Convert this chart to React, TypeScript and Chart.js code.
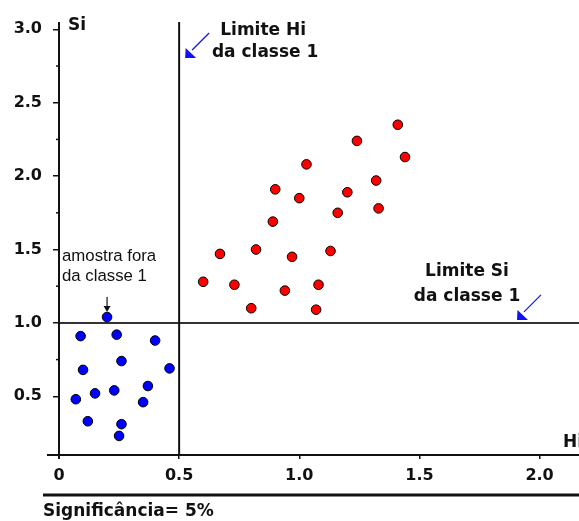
import { useEffect, useRef } from "react";
import { Chart, registerables } from "chart.js";

Chart.register(...registerables);

// Class 1 samples (red) and the samples outside class 1 (blue): Hi on x, Si on y
const redHi = [1.41, 1.24, 1.44, 1.03, 1.32, 0.9, 1.2, 1.0, 1.33, 1.16, 0.89, 0.82, 0.67, 1.13, 0.97, 0.6, 0.73, 1.08, 0.94, 0.8, 1.07];
const redSi = [2.35, 2.24, 2.13, 2.08, 1.97, 1.91, 1.89, 1.85, 1.78, 1.75, 1.69, 1.5, 1.47, 1.49, 1.45, 1.28, 1.26, 1.26, 1.22, 1.1, 1.09];
const blueHi = [0.2, 0.09, 0.24, 0.4, 0.26, 0.1, 0.46, 0.37, 0.15, 0.23, 0.07, 0.35, 0.12, 0.26, 0.25];
const blueSi = [1.04, 0.91, 0.92, 0.88, 0.74, 0.68, 0.69, 0.57, 0.52, 0.54, 0.48, 0.46, 0.33, 0.31, 0.23];

// Axis ticks
const hiTicks = [0, 0.5, 1.0, 1.5, 2.0];
const hiTickLabels = ["0", "0.5", "1.0", "1.5", "2.0"];
const siTicks = [0.5, 1.0, 1.5, 2.0, 2.5, 3.0];
const siTickLabels = ["0.5", "1.0", "1.5", "2.0", "2.5", "3.0"];
const siMinorTicks = [0.75, 1.25, 1.75, 2.25, 2.75];

// Class 1 limits
const hiLimit = 0.5;
const siLimit = 1.0;

const BOLD = "bold 17px 'DejaVu Sans'";
const INK = "#111111";
const ARROW = "#1010ff";

function segment(ctx: CanvasRenderingContext2D, x1: number, y1: number, x2: number, y2: number) {
  ctx.beginPath();
  ctx.moveTo(x1, y1);
  ctx.lineTo(x2, y2);
  ctx.stroke();
}

// Thin blue arrow with a filled head whose tip touches (tx, ty), coming from up-right
function blueArrow(ctx: CanvasRenderingContext2D, tx: number, ty: number) {
  ctx.strokeStyle = ARROW;
  ctx.fillStyle = ARROW;
  ctx.lineWidth = 1.2;
  segment(ctx, tx + 24, ty - 25, tx + 7, ty - 8);
  ctx.beginPath();
  ctx.moveTo(tx, ty);
  ctx.lineTo(tx + 0.5, ty - 10);
  ctx.lineTo(tx + 11, ty);
  ctx.closePath();
  ctx.fill();
}

const decorations = {
  id: "decorations",
  beforeDatasetsDraw(chart: any) {
    const { ctx, chartArea: a, scales, width } = chart;
    const sx = scales.x;
    const sy = scales.y;
    const x0 = sx.getPixelForValue(0);
    const xl = sx.getPixelForValue(hiLimit);
    const yl = sy.getPixelForValue(siLimit);
    ctx.save();
    ctx.lineCap = "butt";

    // minor ticks on the Si axis
    ctx.strokeStyle = INK;
    ctx.lineWidth = 1.5;
    for (const v of siMinorTicks) {
      const p = sy.getPixelForValue(v);
      segment(ctx, x0 - 3, p, x0, p);
    }

    // Si limit of class 1
    ctx.strokeStyle = "#333333";
    ctx.lineWidth = 2;
    segment(ctx, x0, yl, width, yl);

    // Hi limit of class 1
    ctx.strokeStyle = INK;
    segment(ctx, xl, a.top, xl, a.bottom);

    // axes
    segment(ctx, x0, a.top, x0, a.bottom + 4);
    segment(ctx, a.left - 12, a.bottom, width, a.bottom);
    ctx.restore();
  },
  afterDraw(chart: any) {
    const { ctx, chartArea: a, scales, width } = chart;
    const sx = scales.x;
    const sy = scales.y;
    const x0 = sx.getPixelForValue(0);
    const xl = sx.getPixelForValue(hiLimit);
    const yl = sy.getPixelForValue(siLimit);
    ctx.save();
    ctx.fillStyle = INK;
    ctx.font = BOLD;
    ctx.textBaseline = "alphabetic";

    // axis names
    ctx.textAlign = "left";
    ctx.fillText("Si", x0 + 9, a.top + 8);
    ctx.fillText("Hi", width - 16, a.bottom - 8);

    // Hi limit label and arrow
    ctx.textAlign = "center";
    ctx.fillText("Limite Hi", xl + 84, a.top + 13);
    ctx.fillText("da classe 1", xl + 86, a.top + 35);
    blueArrow(ctx, xl + 6, a.top + 36);

    // Si limit label and arrow
    ctx.fillStyle = INK;
    ctx.fillText("Limite Si", width - 112, yl - 47);
    ctx.fillText("da classe 1", width - 112, yl - 22);
    blueArrow(ctx, width - 62, yl - 3);

    // the sample lying outside class 1
    const ox = sx.getPixelForValue(blueHi[0]);
    const oy = sy.getPixelForValue(blueSi[0]);
    ctx.fillStyle = INK;
    ctx.font = "16.8px 'Liberation Sans'";
    ctx.textAlign = "left";
    ctx.fillText("amostra fora", x0 + 3, oy - 56);
    ctx.fillText("da classe 1", x0 + 3, oy - 36);
    ctx.strokeStyle = INK;
    ctx.lineWidth = 1.2;
    segment(ctx, ox, oy - 20, ox, oy - 8);
    ctx.beginPath();
    ctx.moveTo(ox - 3.5, oy - 11);
    ctx.lineTo(ox + 3.5, oy - 11);
    ctx.lineTo(ox, oy - 5);
    ctx.closePath();
    ctx.fill();

    // significance footer
    ctx.strokeStyle = INK;
    ctx.lineWidth = 3;
    segment(ctx, x0 - 16, 495, width, 495);
    ctx.font = BOLD;
    ctx.fillText("Significância= 5%", x0 - 16, 516);
    ctx.restore();
  },
};

export default function App() {
  const canvasRef = useRef<HTMLCanvasElement | null>(null);

  useEffect(() => {
    const canvas = canvasRef.current;
    if (!canvas) return;
    const point = (color: string) => ({
      backgroundColor: color,
      borderColor: "#000000",
      borderWidth: 1,
      pointRadius: 4.8,
      pointStyle: "circle" as const,
    });
    const chart = new Chart(canvas, {
      type: "scatter",
      data: {
        datasets: [
          { label: "classe 1", data: redHi.map((h, i) => ({ x: h, y: redSi[i] })), ...point("#ff0000") },
          { label: "fora da classe 1", data: blueHi.map((h, i) => ({ x: h, y: blueSi[i] })), ...point("#0000ff") },
        ],
      },
      options: {
        animation: false,
        responsive: false,
        devicePixelRatio: 1,
        layout: { padding: { top: 22, right: 0, bottom: 0, left: 0 } },
        plugins: { legend: { display: false }, tooltip: { enabled: false } },
        scales: {
          x: {
            type: "linear",
            min: 0,
            max: 2.14,
            afterFit: (s: any) => {
              s.height = 66;
            },
            afterBuildTicks: (s: any) => {
              s.ticks = hiTicks.map((v) => ({ value: v }));
            },
            border: { display: false },
            grid: { drawOnChartArea: false, drawTicks: true, tickLength: 4, color: INK, lineWidth: 1.5 },
            ticks: {
              padding: 7,
              maxRotation: 0,
              color: INK,
              font: { family: "'DejaVu Sans'", size: 16, weight: "bold" },
              callback: (v: any) => hiTickLabels[hiTicks.indexOf(Number(v))] ?? "",
            },
          },
          y: {
            type: "linear",
            min: 0.1,
            max: 3.05,
            afterFit: (s: any) => {
              s.width = 59;
            },
            afterBuildTicks: (s: any) => {
              s.ticks = siTicks.map((v) => ({ value: v }));
            },
            border: { display: false },
            grid: { drawOnChartArea: false, drawTicks: true, tickLength: 6, color: INK, lineWidth: 1.5 },
            ticks: {
              padding: 11,
              color: INK,
              font: { family: "'DejaVu Sans'", size: 16, weight: "bold" },
              callback: (v: any) => siTickLabels[siTicks.indexOf(Number(v))] ?? "",
            },
          },
        },
      },
      plugins: [decorations],
    });
    return () => chart.destroy();
  }, []);

  return (
    <div style={{ position: "fixed", left: 0, top: 0, width: 579, height: 521, background: "#ffffff" }}>
      <canvas ref={canvasRef} width={579} height={521} style={{ display: "block" }} />
    </div>
  );
}
